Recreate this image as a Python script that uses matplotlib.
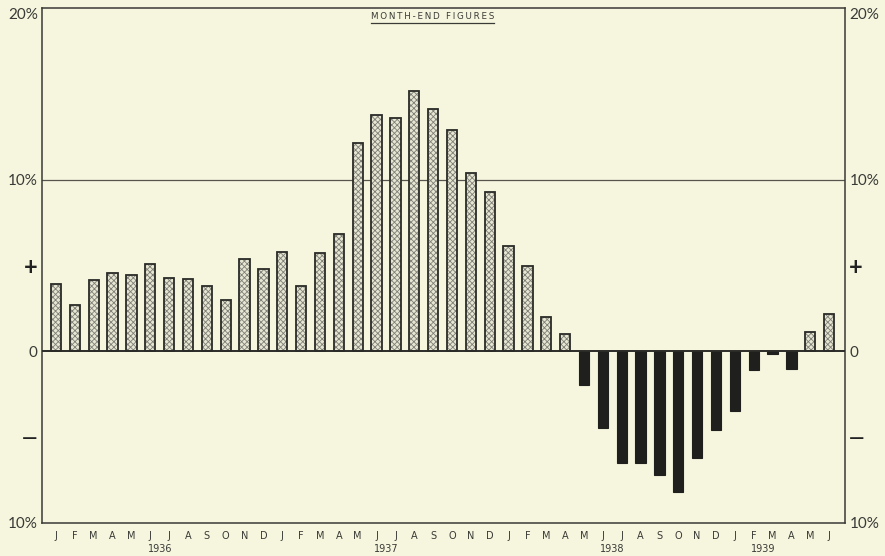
import matplotlib
matplotlib.use("Agg")
import matplotlib.pyplot as plt
from matplotlib.lines import Line2D
import matplotlib.transforms as mtransforms

# month-end figures, percent change
months = list("JFMAMJJASOND") * 3 + list("JFMAMJ")
values_1936 = [3.9, 2.67, 4.17, 4.56, 4.44, 5.06, 4.29, 4.23, 3.78, 3.0, 5.36, 4.77]
values_1937 = [5.79, 3.8, 5.73, 6.82, 12.16, 13.78, 13.58, 15.18, 14.13, 12.9, 10.4, 9.26]
values_1938 = [6.14, 4.97, 2.02, 1.03, -1.97, -4.49, -6.49, -6.49, -7.18, -8.2, -6.2, -4.58]
values_1939 = [-3.47, -1.08, -0.15, -1.03, 1.15, 2.2]
years = ["1936", "1937", "1938", "1939"]
year_label_pos = [5.5, 17.5, 29.5, 37.5]
ytick_vals = [20, 10, 5, 0, -5, -10]
ytick_labels = ["20%", "10%", "+", "0", "\u2014", "10%"]

values = values_1936 + values_1937 + values_1938 + values_1939
x = list(range(len(values)))

BG = "#f6f6df"
INK = "#2b2b28"
TXT = "#3a3a36"

plt.rcParams["font.family"] = ["Lato", "DejaVu Sans"]
plt.rcParams["hatch.linewidth"] = 0.6

fig = plt.figure(figsize=(8.85, 5.56), dpi=100, facecolor=BG)
ax = fig.add_axes([0.0475, 0.0594, 0.9075, 0.9262], facecolor=BG)

pos_x = [i for i, v in zip(x, values) if v >= 0]
pos_v = [v for v in values if v >= 0]
neg_x = [i for i, v in zip(x, values) if v < 0]
neg_v = [v for v in values if v < 0]

width = 0.55
ax.bar(pos_x, pos_v, width=width, color="#e6e6d3", edgecolor="#7e7e76",
       hatch="xxxxxx", linewidth=0, zorder=3)
ax.bar(pos_x, pos_v, width=width, fill=False, edgecolor=INK, linewidth=1.3, zorder=4)
ax.bar(neg_x, neg_v, width=width, color="#1f1f1d", edgecolor="#1f1f1d",
       linewidth=0.8, zorder=3)

ax.set_xlim(-0.74, 41.85)
ax.set_ylim(-10, 20)

# reference lines
ax.axhline(10, color="#55554e", linewidth=0.9, zorder=1)
ax.axhline(0, color=INK, linewidth=1.4, zorder=5)

for side in ["left", "right", "top", "bottom"]:
    ax.spines[side].set_color("#3a3a36")
    ax.spines[side].set_linewidth(1.1)

ax.set_yticks(ytick_vals)
ax.set_yticklabels(ytick_labels)
ax.tick_params(axis="y", length=0, labelsize=11, labelcolor=TXT,
               left=False, right=False, labelleft=True, labelright=True, pad=3)
for tick, val in zip(ax.yaxis.get_major_ticks(), ytick_vals):
    for lbl in (tick.label1, tick.label2):
        txt = lbl.get_text()
        if txt == "+":
            lbl.set_fontsize(17)
            lbl.set_fontweight("bold")
            lbl.set_color("#222")
        elif txt == "\u2014":
            lbl.set_fontsize(14)
            lbl.set_fontweight("bold")
            lbl.set_color("#222")
        if val == 20:
            lbl.set_va("top")

ax.set_xticks(x)
ax.set_xticklabels(months, family="DejaVu Sans")
ax.tick_params(axis="x", length=0, labelsize=7, labelcolor=TXT, pad=6)

trans = mtransforms.blended_transform_factory(ax.transData, fig.transFigure)
for yr, xp in zip(years, year_label_pos):
    ax.text(xp, 0.003, yr, transform=trans, ha="center", va="bottom",
            fontsize=7, color=TXT, family="DejaVu Sans")

spaced = "\u2009".join("MONTH-END FIGURES")
title = fig.text(0.489, 0.962, spaced, ha="center", va="bottom",
                 fontsize=6.3, color=TXT, family="DejaVu Sans")
fig.canvas.draw()
bb = title.get_window_extent().transformed(fig.transFigure.inverted())
fig.add_artist(Line2D([bb.x0, bb.x1], [bb.y0 - 0.003, bb.y0 - 0.003],
                      transform=fig.transFigure, color=TXT, linewidth=0.9))

fig.savefig("out.png", dpi=100, facecolor=BG)
